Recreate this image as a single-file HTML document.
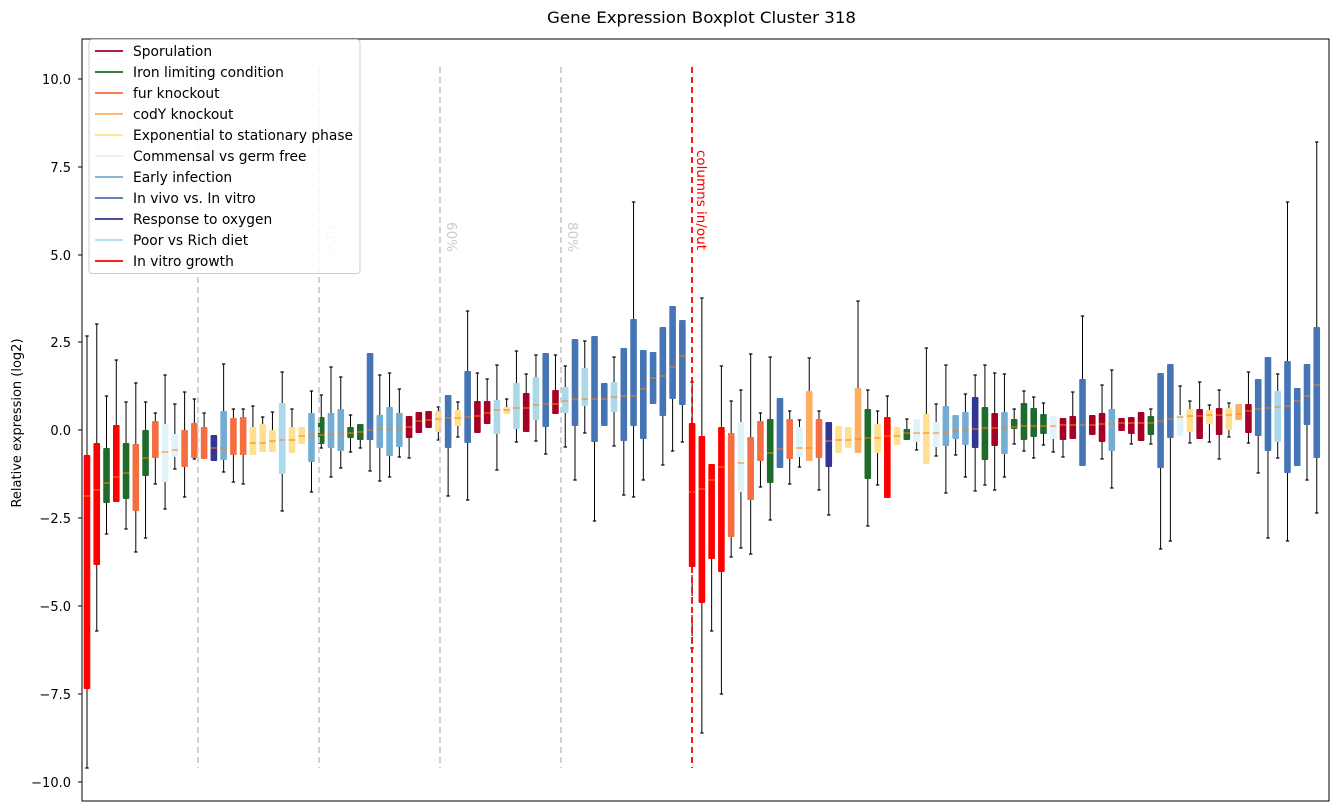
<!DOCTYPE html>
<html><head><meta charset="utf-8"><style>
html,body{margin:0;padding:0;background:#fff;}
svg{display:block;font-family:"DejaVu Sans","Liberation Sans",sans-serif;}
</style></head><body>
<svg id="s" width="1331" height="812" viewBox="0 0 1331 812" xmlns="http://www.w3.org/2000/svg">
<rect x="0" y="0" width="1331" height="812" fill="#fff"/>
<text x="547" y="23" font-size="16" textLength="309" lengthAdjust="spacingAndGlyphs" fill="#000">Gene Expression Boxplot Cluster 318</text>
<g id="boxes"></g>
<g stroke="#ccc" stroke-width="1.8" stroke-dasharray="6,4">
<line x1="198" y1="67" x2="198" y2="768"/><line x1="319" y1="67" x2="319" y2="768"/>
<line x1="440" y1="67" x2="440" y2="768"/><line x1="561" y1="67" x2="561" y2="768"/>
</g>
<line x1="692" y1="67" x2="692" y2="768" stroke="#f00" stroke-width="1.8" stroke-dasharray="6,4"/>
<g font-size="13.5" fill="#ccc">
<text transform="translate(205,222) rotate(90)">20%</text>
<text transform="translate(326,222) rotate(90)">40%</text>
<text transform="translate(447,222) rotate(90)">60%</text>
<text transform="translate(568,222) rotate(90)">80%</text>
</g>
<text transform="translate(697,150) rotate(90)" font-size="13.5" fill="#f00">columns in/out</text>
<rect x="82" y="39" width="1247" height="762" fill="none" stroke="#000" stroke-width="1"/>
<g font-size="13" text-anchor="end" fill="#000">
<text x="71" y="84">10.0</text><text x="71" y="172">7.5</text><text x="71" y="260">5.0</text>
<text x="71" y="347">2.5</text><text x="71" y="435">0.0</text><text x="71" y="523">−2.5</text>
<text x="71" y="611">−5.0</text><text x="71" y="699">−7.5</text><text x="71" y="787">−10.0</text>
</g>
<g stroke="#000" stroke-width="1">
<line x1="78" y1="79" x2="82" y2="79"/><line x1="78" y1="167" x2="82" y2="167"/><line x1="78" y1="255" x2="82" y2="255"/>
<line x1="78" y1="342" x2="82" y2="342"/><line x1="78" y1="430" x2="82" y2="430"/><line x1="78" y1="518" x2="82" y2="518"/>
<line x1="78" y1="606" x2="82" y2="606"/><line x1="78" y1="694" x2="82" y2="694"/><line x1="78" y1="782" x2="82" y2="782"/>
</g>
<text transform="translate(21,423) rotate(-90)" font-size="13" text-anchor="middle">Relative expression (log2)</text>
<g id="legend">
<rect x="89" y="39.5" width="271" height="234" rx="3" fill="#fff" fill-opacity="0.85" stroke="#ccc"/>
</g>
</svg>
<script>
var C={R:"#ff0000",C:"#a50026",G:"#1f6b2b",F:"#f46d43",O:"#fdae61",Y:"#fee090",L:"#e0f3f8",E:"#74add1",B:"#4575b4",N:"#313695",P:"#abd9e9"};
var d="R 336 455 496 689 768|R 324 443 490 565 631|G 396 448 483 503 534|R 360 425 477 502 502|G 402 443 473 499 529|F 383 444 466 511 552|G 402 430 458 476 538|F 413 421 453 458 484|L 375 424 452 482 509|L 404 434 450 457 469|F 392 430 450 467 497|F 399 423 450 458 459|F 413 427 449 459 459|N 435 435 448 461 461|E 364 411 448 460 472|F 409 418 447 455 482|F 409 417 445 455 484|Y 406 427 443 455 455|Y 417 424 443 452 452|Y 412 430 441 452 452|P 372 403 440 474 511|Y 409 427 440 453 453|Y 427 427 436 444 444|E 391 413 435 462 492|G 395 417 435 444 448|E 367 413 435 448 477|E 377 409 434 451 468|G 415 427 433 438 452|G 424 424 432 440 448|B 353 353 430 440 471|E 375 415 429 448 481|E 373 407 429 456 477|E 389 413 428 447 457|C 416 416 427 438 458|C 412 412 421 433 433|C 411 411 420 428 428|Y 407 411 419 432 440|B 395 395 418 448 496|Y 402 410 418 426 437|B 311 371 417 443 500|C 373 401 416 433 433|C 379 401 413 424 424|P 365 400 410 434 470|Y 399 407 410 414 414|P 351 383 408 429 442|C 374 393 408 432 432|P 355 377 405 420 441|B 353 353 404 427 454|C 355 390 404 414 414|P 366 387 401 413 447|B 339 339 399 426 480|P 341 368 399 406 433|B 336 336 399 442 521|B 383 383 399 426 426|P 357 382 397 412 446|B 348 348 396 441 495|B 202 319 396 426 497|B 350 350 389 439 480|B 352 352 378 404 404|B 327 327 376 416 465|B 306 306 367 399 451|B 320 320 356 405 442|R 382 423 492 567 648|R 298 436 489 603 733|R 464 464 480 559 631|R 366 427 467 572 694|F 401 433 466 537 557|L 390 422 463 492 548|F 354 437 461 500 554|F 413 421 455 461 487|G 357 419 453 483 520|B 398 398 449 468 468|F 411 419 449 459 484|L 420 427 448 457 467|O 358 391 448 461 461|F 411 419 448 458 490|N 422 422 441 467 515|Y 426 426 440 453 453|Y 427 427 440 448 448|O 301 388 439 453 453|G 390 409 438 479 526|Y 411 424 438 453 485|R 396 417 436 498 498|Y 427 427 436 445 445|G 419 429 433 440 440|L 419 419 433 442 450|Y 348 414 433 464 464|L 404 422 433 447 456|E 365 406 432 446 493|E 415 415 431 439 455|E 394 412 430 445 477|N 375 397 429 448 491|G 365 407 428 460 485|C 373 413 428 446 490|E 374 412 428 454 477|G 409 419 427 429 444|G 391 403 426 440 451|G 397 408 426 437 458|G 403 414 426 434 445|L 416 416 426 439 452|C 418 418 425 440 457|C 392 416 425 439 439|B 316 379 425 466 466|C 415 415 425 435 435|C 385 413 424 442 459|E 370 409 424 451 488|C 418 418 423 431 431|C 417 417 423 434 444|C 412 412 423 441 441|G 409 416 423 435 444|B 373 373 421 468 549|B 364 364 419 438 541|L 386 415 417 436 436|Y 401 409 416 432 443|C 382 409 416 439 439|Y 405 410 415 424 442|C 390 408 415 435 459|Y 403 408 415 430 437|O 404 404 414 420 420|C 372 404 411 433 443|B 379 379 409 436 473|B 357 357 408 451 538|P 374 391 407 442 458|B 202 361 406 473 541|B 388 388 401 466 466|B 364 364 396 425 480|B 142 327 385 458 513";
var g=document.getElementById("boxes"),h="";
d.split("|").forEach(function(r,i){var a=r.split(" "),x=87+i*9.76,c=C[a[0]],t=+a[1],q3=+a[2],m=+a[3],q1=+a[4],b=+a[5];
if(t<q3)h+='<line x1="'+x+'" y1="'+t+'" x2="'+x+'" y2="'+q3+'" stroke="#000" stroke-width="1"/><line x1="'+(x-1.7)+'" y1="'+t+'" x2="'+(x+1.7)+'" y2="'+t+'" stroke="#000" stroke-width="1.2"/>';
if(b>q1)h+='<line x1="'+x+'" y1="'+q1+'" x2="'+x+'" y2="'+b+'" stroke="#000" stroke-width="1" '+(i==62?'stroke-dasharray="5,3"':'')+'/><line x1="'+(x-1.7)+'" y1="'+b+'" x2="'+(x+1.7)+'" y2="'+b+'" stroke="#000" stroke-width="1.2"/>';
h+='<rect x="'+(x-3.3)+'" y="'+q3+'" width="6.6" height="'+Math.max(1,q1-q3)+'" rx="1" fill="'+c+'"/>';
h+='<line x1="'+(x-3.3)+'" y1="'+m+'" x2="'+(x+3.3)+'" y2="'+m+'" stroke="#ff7f0e" stroke-width="1"/>';});
g.innerHTML=h;
var L=[["Sporulation","#a50026"],["Iron limiting condition","#1f6b2b"],["fur knockout","#f46d43"],["codY knockout","#fdae61"],["Exponential to stationary phase","#fee090"],["Commensal vs germ free","#e0f3f8"],["Early infection","#74add1"],["In vivo vs. In vitro","#4575b4"],["Response to oxygen","#313695"],["Poor vs Rich diet","#abd9e9"],["In vitro growth","#ff0000"]];
var lg=document.getElementById("legend"),s="";
L.forEach(function(e,i){var y=51+i*21;s+='<line x1="95" y1="'+y+'" x2="123" y2="'+y+'" stroke="'+e[1]+'" stroke-width="1.8"/><text x="133" y="'+(y+5)+'" font-size="13.8" fill="#000">'+e[0]+'</text>';});
lg.innerHTML+=s;
</script>
</body></html>
